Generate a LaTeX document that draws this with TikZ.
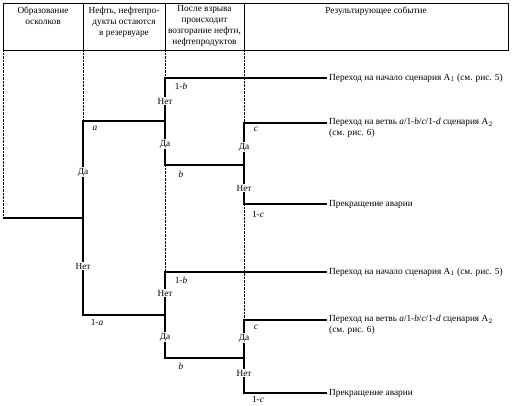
\documentclass[tikz,border=0pt]{standalone}
\usepackage{fontspec}
\setmainfont{Liberation Serif}

\begin{document}
\begin{tikzpicture}[
  x=1pt, y=-1pt,
  font=\fontsize{9.3}{10.8}\selectfont,
  frame/.style={line width=0.9pt},
  branch/.style={line width=1.1pt},
  guide/.style={densely dotted, line width=0.4pt},
  head/.style={anchor=north, align=center, inner sep=0pt},
  answer/.style={fill=white, inner sep=0.6pt},
  prob/.style={inner sep=0pt},
  outcome/.style={anchor=west, align=left, inner sep=0pt}
]
  \useasboundingbox (0,0) rectangle (512,405);

  % ---- header ----
  \draw[frame] (3,3) rectangle (508,50);
  \coordinate (h1t) at (83,3);   \coordinate (h1b) at (83,50);
  \coordinate (h2t) at (165,3);  \coordinate (h2b) at (165,50);
  \coordinate (h3t) at (244,3);  \coordinate (h3b) at (244,50);
  \draw[frame] (h1t) -- (h1b);
  \draw[frame] (h2t) -- (h2b);
  \draw[frame] (h3t) -- (h3b);
  \node[head] (hFrag) at (43,7) {Образование\\осколков};
  \node[head] (hOil) at (124,7) {Нефть, нефтепро-\\дукты остаются\\в резервуаре};
  \node[head] (hFire) at (204.5,5.5) {После взрыва\\происходит\\возгорание нефти,\\нефтепродуктов};
  \node[head] (hRes) at (376,7) {Результирующее событие};

  % ---- tree points ----
  \coordinate (start) at (3,218);
  \coordinate (aJ) at (83,218);
  \coordinate (aT) at (83,121);
  \coordinate (aB) at (83,315);
  % upper subtree
  \coordinate (bT1) at (165,78);
  \coordinate (bJ1) at (165,121);
  \coordinate (bB1) at (165,165);
  \coordinate (cT1) at (244,123);
  \coordinate (cJ1) at (244,165);
  \coordinate (cB1) at (244,204);
  \coordinate (e1) at (327,78);
  \coordinate (e2) at (327,123);
  \coordinate (e3) at (327,204);
  % lower subtree
  \coordinate (bT2) at (165,272);
  \coordinate (bJ2) at (165,315);
  \coordinate (bB2) at (165,358);
  \coordinate (cT2) at (244,320);
  \coordinate (cJ2) at (244,358);
  \coordinate (cB2) at (244,393);
  \coordinate (e4) at (327,272);
  \coordinate (e5) at (327,320);
  \coordinate (e6) at (327,393);

  % ---- dotted column guides ----
  \draw[guide] (3,50) -- (start);
  \draw[guide] (h1b) -- (aT);
  \draw[guide] (h2b) -- (bT1);
  \draw[guide] (bB1) -- (bT2);
  \draw[guide] (h3b) -- (cT1);
  \draw[guide] (cB1) -- (cT2);

  % ---- branches ----
  \draw[branch] (start) -- (aJ);
  \draw[branch] (bJ1) -- (aT) -- (aB) -- (bJ2);
  \draw[branch] (e1) -- (bT1) -- (bB1) -- (cJ1);
  \draw[branch] (e2) -- (cT1) -- (cB1) -- (e3);
  \draw[branch] (e4) -- (bT2) -- (bB2) -- (cJ2);
  \draw[branch] (e5) -- (cT2) -- (cB2) -- (e6);

  % ---- answers and probabilities ----
  \node[answer] (aYes) at (83,172) {Да};
  \node[answer] (aNo) at (83,266) {Нет};
  \node[prob] (pa) at (95,128) {\textit{a}};
  \node[prob] (pna) at (97,322) {1-\textit{a}};

  \node[answer] (bNo1) at (165,101) {Нет};
  \node[answer] (bYes1) at (165,144) {Да};
  \node[prob] (pnb1) at (181,86) {1-\textit{b}};
  \node[prob] (pb1) at (181,174) {\textit{b}};
  \node[answer] (cYes1) at (244,147) {Да};
  \node[answer] (cNo1) at (244,188) {Нет};
  \node[prob] (pc1) at (256,129) {\textit{c}};
  \node[prob] (pnc1) at (258,214) {1-\textit{c}};

  \node[answer] (bNo2) at (165,293) {Нет};
  \node[answer] (bYes2) at (165,337) {Да};
  \node[prob] (pnb2) at (181,280) {1-\textit{b}};
  \node[prob] (pb2) at (181,366) {\textit{b}};
  \node[answer] (cYes2) at (244,338) {Да};
  \node[answer] (cNo2) at (244,373) {Нет};
  \node[prob] (pc2) at (256,327) {\textit{c}};
  \node[prob] (pnc2) at (258,399) {1-\textit{c}};

  % ---- resulting events ----
  \node[outcome] (r1) at ([xshift=2pt]e1) {Переход на начало сценария A$_1$ (см. рис. 5)};
  \node[outcome, anchor=north west] (r2) at ([xshift=2pt,yshift=5pt]e2)
        {Переход на ветвь \textit{a}/1-\textit{b}/\textit{c}/1-\textit{d} сценария A$_2$\\(см. рис. 6)};
  \node[outcome] (r3) at ([xshift=2pt]e3) {Прекращение аварии};
  \node[outcome] (r4) at ([xshift=2pt]e4) {Переход на начало сценария A$_1$ (см. рис. 5)};
  \node[outcome, anchor=north west] (r5) at ([xshift=2pt,yshift=5pt]e5)
        {Переход на ветвь \textit{a}/1-\textit{b}/\textit{c}/1-\textit{d} сценария A$_2$\\(см. рис. 6)};
  \node[outcome] (r6) at ([xshift=2pt]e6) {Прекращение аварии};
\end{tikzpicture}
\end{document}
